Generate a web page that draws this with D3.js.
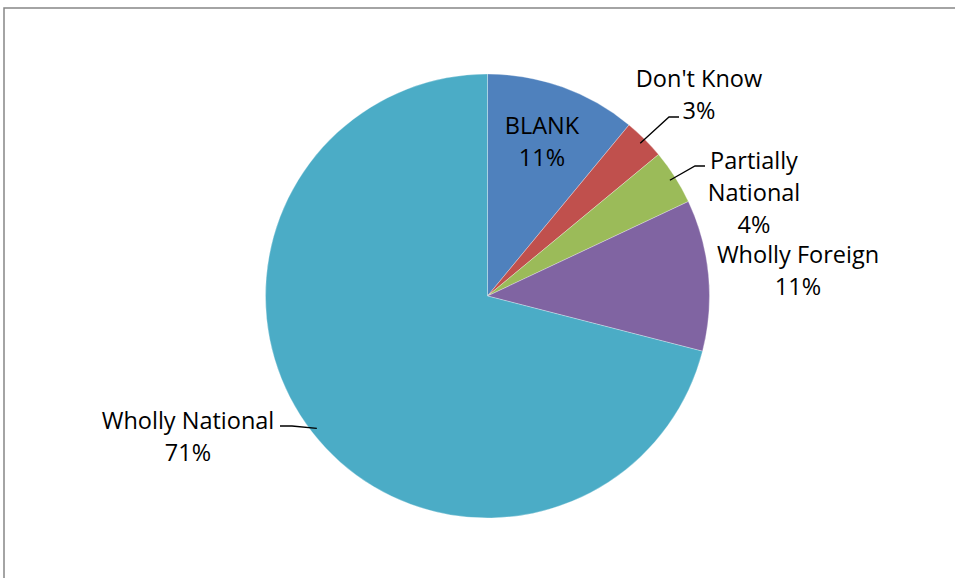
<!DOCTYPE html>
<html>
<head>
<meta charset="utf-8">
<script src="https://cdn.jsdelivr.net/npm/d3@7/dist/d3.min.js"></script>
<style>
  html, body { margin: 0; padding: 0; background: #fff; }
  svg { display: block; }
  text { font-family: "Open Sans", Lato, sans-serif; font-size: 23.5px; fill: #000; }
</style>
</head>
<body>
<svg id="chart" width="955" height="578"></svg>
<script>
// Ownership categories and their shares (percent)
const categories = ["BLANK", "Don't Know", "Partially National", "Wholly Foreign", "Wholly National"];
const shares = [11, 3, 4, 11, 71];
const colors = ["#4F81BD", "#C0504D", "#9BBB59", "#8064A2", "#4BACC6"];

// Label layout: text lines, anchor position and optional leader polyline
const labelLines = [["BLANK", "11%"], ["Don't Know", "3%"], ["Partially", "National", "4%"], ["Wholly Foreign", "11%"], ["Wholly National", "71%"]];
const labelPos = [[542, 125], [699, 78], [754, 160], [798, 254], [188, 420]];
const leaders = [null, [[679, 117], [669, 117]], [[705, 166], [695, 166]], null, [[280, 426], [292, 426]]];

const width = 955, height = 578;
const cx = 487.5, cy = 296, r = 222;

const svg = d3.select("#chart");

// Chart area frame
svg.append("rect")
  .attr("x", 4).attr("y", 8)
  .attr("width", width + 10).attr("height", height + 10)
  .attr("fill", "#fff")
  .attr("stroke", "#868686")
  .attr("stroke-width", 1.5);

const data = categories.map((c, i) => ({ name: c, value: shares[i], color: colors[i], i }));

const pie = d3.pie().value(d => d.value).sort(null);
const arc = d3.arc().innerRadius(0).outerRadius(r);
const arcs = pie(data);

const g = svg.append("g").attr("transform", `translate(${cx},${cy})`);

g.selectAll("path.slice")
  .data(arcs)
  .join("path")
  .attr("class", "slice")
  .attr("d", arc)
  .attr("fill", d => d.data.color)
  .attr("stroke", "#fff")
  .attr("stroke-width", 0.5)
  .attr("stroke-opacity", 0.6);

// Leader lines: from the label elbow to a point just inside the slice edge
const edgeArc = d3.arc().innerRadius(r - 6).outerRadius(r - 6);
arcs.forEach((a, i) => {
  const pts = leaders[i];
  if (!pts) return;
  const [ex, ey] = edgeArc.centroid(a);
  const line = pts.concat([[ex + cx, ey + cy]]);
  svg.append("path")
    .attr("d", d3.line()(line))
    .attr("fill", "none")
    .attr("stroke", "#000")
    .attr("stroke-width", 1.3);
});

// Labels
labelLines.forEach((lines, i) => {
  const [x, y] = labelPos[i];
  const t = svg.append("text")
    .attr("x", x).attr("y", y)
    .attr("text-anchor", "middle")
    .attr("dominant-baseline", "central");
  lines.forEach((ln, j) => {
    t.append("tspan").attr("x", x).attr("dy", j === 0 ? 0 : 32).text(ln);
  });
});
</script>
</body>
</html>
